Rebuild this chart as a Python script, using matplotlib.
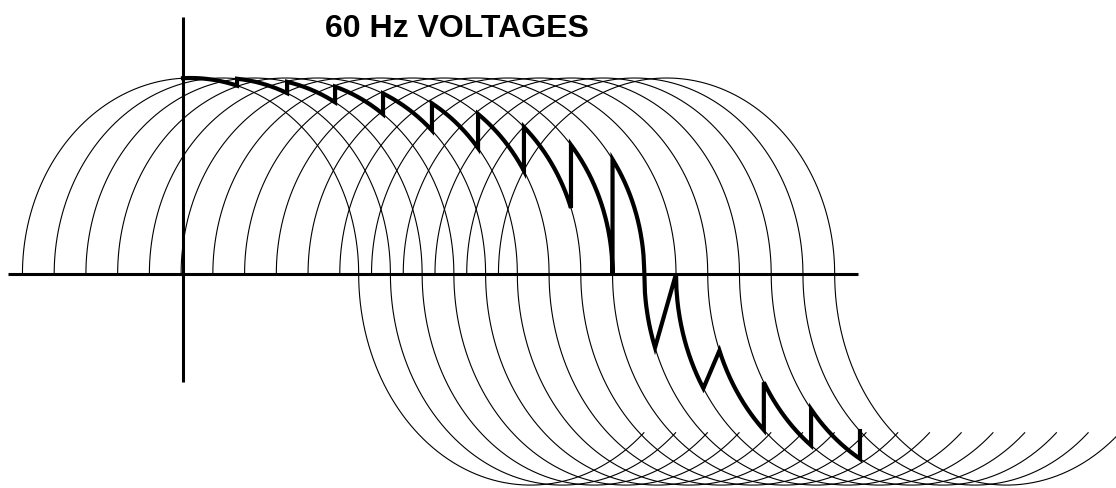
import numpy as np
import matplotlib
matplotlib.use("Agg")
import matplotlib.pyplot as plt

# 60 Hz phase waves, x in electrical degrees (0 at the vertical axis)
wave_start = [-85.0, -68.2, -51.4, -34.6, -17.8, -1.0, 15.8, 32.6,
              49.4, 66.2, 83.0, 99.8, 116.6, 133.4, 150.2, 167.0]
wave_span = 329.0      # each wave is drawn up to this many degrees
lobe_up = 178.0        # width of positive half cycle (deg)
lobe_dn = 182.0        # width of negative half cycle (deg)
depth_dn = 1.077       # negative peak as drawn

# output voltage: piece of wave i from seg_from to seg_to, then switch
seg_wave = [0, 1, 2, 3, 4, 5, 6, 7, 8, 9, 10, 11, 12, 13, 14]
seg_from = [0.0, 28.6, 55.1, 80.5, 105.9, 131.8, 156.2, 180.5, 205.4,
            227.4, 261.0, 284.0, 307.5, 332.5, 358.4]
seg_to = [28.6, 55.1, 80.5, 105.9, 131.8, 156.2, 180.5, 205.4, 227.4,
          249.9, 275.5, 307.5, 332.5, 358.4, 358.4]

h_axis = (-92.6, 357.4)
v_axis = (-0.551, 1.311)


def wave_y(x, s):
    u = np.asarray(x, dtype=float) - s
    y = np.zeros_like(u)
    c1 = lobe_up / 2
    c2 = lobe_dn / 2
    up = u <= lobe_up
    y[up] = np.sqrt(np.clip(1 - ((u[up] - c1) / c1) ** 2, 0, None))
    lo = ~up
    y[lo] = -depth_dn * np.sqrt(np.clip(1 - ((u[lo] - lobe_up - c2) / c2) ** 2, 0, None))
    return y


def wave_xy(s):
    c1 = lobe_up / 2
    c2 = lobe_dn / 2
    t1 = np.linspace(0, np.pi, 200)
    x1 = s + c1 * (1 - np.cos(t1))
    y1 = np.sin(t1)
    t_end = np.arccos(1 - (wave_span - lobe_up) / c2)
    t2 = np.linspace(0, t_end, 200)
    x2 = s + lobe_up + c2 * (1 - np.cos(t2))
    y2 = -depth_dn * np.sin(t2)
    return np.concatenate([x1, x2]), np.concatenate([y1, y2])


px_per_deg = 1.8889
px_per_unit = 196.0

fig = plt.figure(figsize=(11.16, 4.88), dpi=100)
ax = fig.add_axes([0, 0, 1, 1])
ax.set_xlim(-183 / px_per_deg, (1116 - 183) / px_per_deg)
ax.set_ylim(-(488 - 274) / px_per_unit, 274 / px_per_unit)
ax.axis("off")

for s in wave_start:
    x, y = wave_xy(s)
    ax.plot(x, y, color="black", lw=0.8)

# axes
ax.plot(h_axis, [0, 0], color="black", lw=2.2, solid_capstyle="butt")
ax.plot([0, 0], v_axis, color="black", lw=2.2, solid_capstyle="butt")

# output voltage
ox, oy = [], []
for w, a, b in zip(seg_wave, seg_from, seg_to):
    xs = np.linspace(a, b, 60)
    ox.extend(xs)
    oy.extend(wave_y(xs, wave_start[w]))
ax.plot(ox, oy, color="black", lw=3.0, solid_joinstyle="miter")

fig.text(325 / 1116, 1 - 37 / 488, "60 Hz VOLTAGES", fontsize=23,
         fontweight="bold", family="Liberation Sans", ha="left", va="baseline")

fig.savefig("out.png", dpi=100, facecolor="white")
